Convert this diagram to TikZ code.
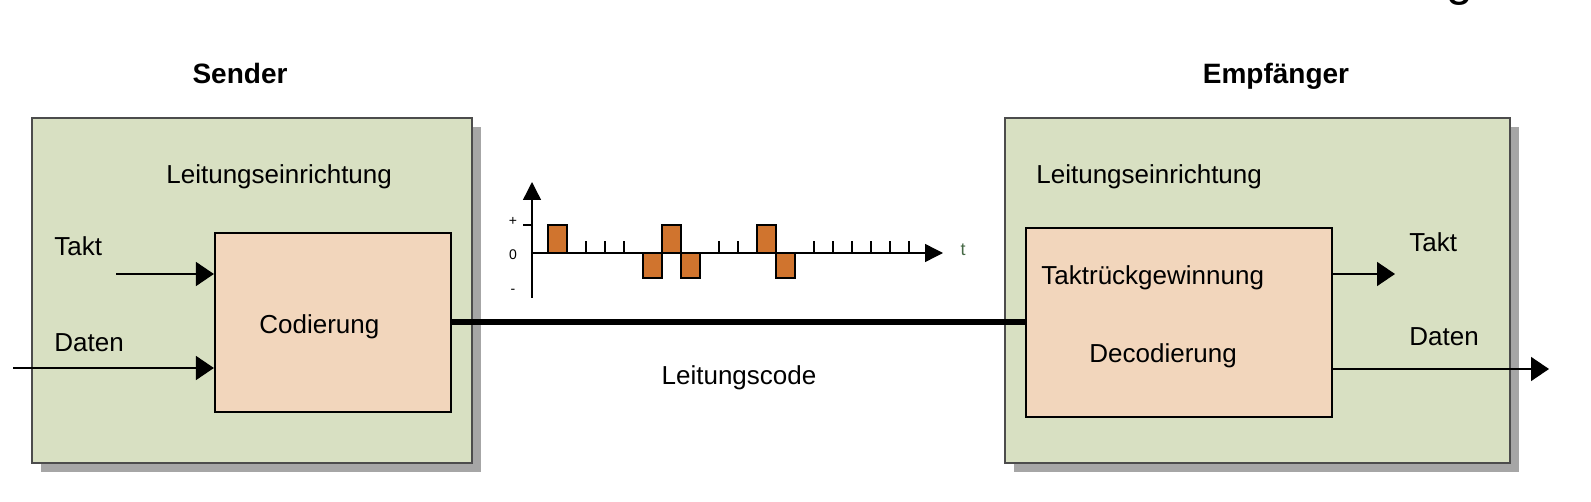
\documentclass[tikz,border=0pt]{standalone}
\usepackage{fontspec}
\setmainfont{Liberation Sans}
\usetikzlibrary{arrows.meta,shadows}

\definecolor{boxgreen}{RGB}{216,224,194}
\definecolor{boxpeach}{RGB}{242,214,188}
\definecolor{pulseorange}{RGB}{208,116,46}
\definecolor{tgreen}{RGB}{70,105,70}

\tikzset{
  outerbox/.style={draw=black!70, line width=0.6pt, fill=boxgreen, inner sep=0pt,
    minimum height=172.5pt,
    drop shadow={shadow xshift=4.5pt, shadow yshift=-4.5pt, fill=black!35, opacity=1}},
  innerbox/.style={draw, line width=1.1pt, fill=boxpeach, inner sep=0pt},
  lbl/.style={inner sep=0pt, font=\fontsize{13pt}{15pt}\selectfont},
  head/.style={inner sep=0pt, font=\fontsize{14pt}{16pt}\selectfont\bfseries},
  sig/.style={-{Triangle[length=9pt,width=12pt]}, line width=0.8pt},
  axis/.style={-{Triangle[length=9pt,width=9pt]}, line width=0.7pt},
  pulse/.style={draw, line width=0.6pt, fill=pulseorange},
  lvl/.style={inner sep=0pt, font=\fontsize{7pt}{8pt}\selectfont}
}

\begin{document}
\begin{tikzpicture}[x=0.5pt,y=-0.5pt]
\useasboundingbox (0,0) rectangle (1591,502);

% cut-off letter at the top edge
\node[inner sep=0pt, anchor=base, font=\fontsize{24pt}{26pt}\selectfont] (frag) at (1460,-4) {g};

% headings
\node[head] (sender) at (240,73) {Sender};
\node[head] (empf) at (1276,76) {Empfänger};

% sender side
\node[outerbox, minimum width=220pt] (lesend) at (252,290.5) {};
\node[lbl, anchor=west] (lesendtxt) at (166,177) {Leitungseinrichtung};
\node[innerbox, minimum width=118pt, minimum height=89.5pt] (codier) at (333,322.5) {};
\node[lbl, anchor=west] (codiertxt) at (259,327) {Codierung};
\node[lbl, anchor=west] (taktin) at (54,246) {Takt};
\node[lbl, anchor=west] (datin) at (54,343) {Daten};
\coordinate (taktsrc) at (116,274);
\coordinate (datsrc) at (13,368);
\draw[sig] (taktsrc) -- (taktsrc -| codier.west);
\draw[sig] (datsrc) -- (datsrc -| codier.west);

% receiver side
\node[outerbox, minimum width=252.5pt] (leempf) at (1257.5,290.5) {};
\node[lbl, anchor=west] (leempftxt) at (1036,177) {Leitungseinrichtung};
\node[innerbox, minimum width=153pt, minimum height=94.5pt] (decod) at (1179,322.5) {};
\node[lbl, anchor=west] (rueck) at (1041,278) {Taktrückgewinnung};
\node[lbl, anchor=west] (decodtxt) at (1089,356) {Decodierung};
\node[lbl, anchor=west] (taktout) at (1409,242) {Takt};
\node[lbl, anchor=west] (datout) at (1409,337) {Daten};
\coordinate (taktdst) at (1395,274);
\coordinate (datdst) at (1549,369);
\draw[sig] (taktdst -| decod.east) -- (taktdst);
\draw[sig] (datdst -| decod.east) -- (datdst);

% line
\draw[line width=3pt] (codier.east) -- (decod.west);
\node[lbl] (code) at (739,378) {Leitungscode};

% line code waveform
\coordinate (orig) at (532,253);
\foreach \k in {0,6,11} \draw[pulse] (548+19*\k,253) rectangle (567+19*\k,225);
\foreach \k in {5,7,12} \draw[pulse] (548+19*\k,253) rectangle (567+19*\k,278);
\foreach \k in {2,3,4,9,10,14,15,16,17,18,19} \draw[line width=0.6pt] (548+19*\k,253) -- (548+19*\k,241);
\draw[line width=0.6pt] (523,225) -- (532,225);
\coordinate (ytop) at (532,182);
\coordinate (tend) at (943,253);
\draw[axis] (532,298) -- (ytop);
\draw[axis] (orig) -- (tend);
\node[inner sep=0pt, font=\fontsize{9pt}{10pt}\selectfont, text=tgreen] (tlbl) at (963,250) {t};
\node[lvl] (plus) at (513,221) {+};
\node[lvl] (zero) at (513,255) {0};
\node[lvl] (minus) at (513,291) {-};
\end{tikzpicture}
\end{document}
